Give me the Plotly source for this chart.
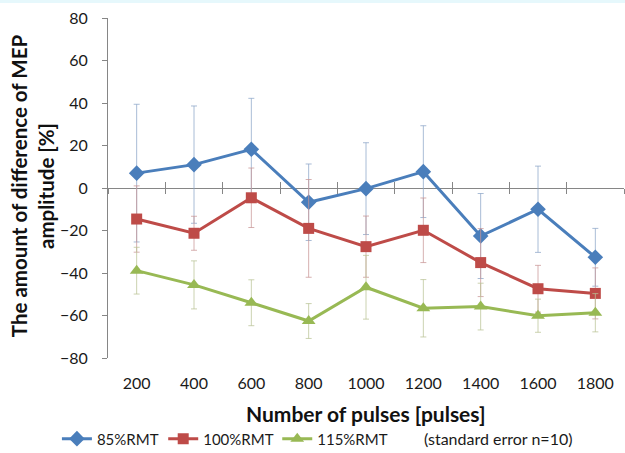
import plotly.graph_objects as go

# ---- data ----
categories = ['200', '400', '600', '800', '1000', '1200', '1400', '1600', '1800']
rmt85 = [7, 11, 18.2, -6.7, -0.3, 7.7, -22.6, -10, -32.6]
rmt85_se = [32.4, 27.6, 24, 18, 21.6, 21.6, 20, 20.3, 13.6]
rmt100 = [-14.6, -21.3, -4.6, -19, -27.6, -19.9, -35.1, -47.4, -49.6]
rmt100_se = [15.6, 8, 14, 23, 14.4, 15.2, 16, 11, 12]
rmt115 = [-38.9, -45.6, -54, -62.6, -46.7, -56.6, -55.8, -60.1, -58.7]
rmt115_se = [11, 11.3, 10.8, 8.2, 15, 13.5, 11, 7.8, 9]
series_names = ['85%RMT', '100%RMT', '115%RMT']
y_ticks = [-80, -60, -40, -20, 0, 20, 40, 60, 80]

FONT = 'Lato'
AXIS_COL = '#868686'

fig = go.Figure()

specs = [
    (rmt85, rmt85_se, '#4A7EBB', 'diamond', 12, 'rgba(140,165,200,0.75)', 'legend'),
    (rmt100, rmt100_se, '#BE4B48', 'square', 11, 'rgba(200,150,150,0.75)', 'legend2'),
    (rmt115, rmt115_se, '#98B954', 'triangle-up', 12, 'rgba(185,195,150,0.75)', 'legend3'),
]
for name, (vals, se, col, sym, size, ecol, leg) in zip(series_names, specs):
    fig.add_trace(go.Scatter(
        x=categories, y=vals, name=name, mode='lines+markers',
        line=dict(color=col, width=3),
        marker=dict(symbol=sym, size=size, color=col),
        error_y=dict(type='data', array=se, symmetric=True, color=ecol,
                     thickness=1, width=3),
        legend=leg,
    ))

# empty helper traces so that the crossing tick axes are drawn
fig.add_trace(go.Scatter(x=[], y=[], xaxis='x2', showlegend=False, hoverinfo='skip'))
fig.add_trace(go.Scatter(x=[], y=[], xaxis='x3', showlegend=False, hoverinfo='skip'))

leg_common = dict(orientation='h', xanchor='left', y=-0.238, yanchor='middle',
                  font=dict(size=15, color='#1a1a1a'), bgcolor='rgba(0,0,0,0)')

n = len(categories)
fig.update_layout(
    width=625, height=453,
    margin=dict(l=108, r=1, t=18, b=95, autoexpand=False),
    paper_bgcolor='white', plot_bgcolor='white',
    font=dict(family=FONT, color='#1a1a1a'),
    showlegend=True,
    xaxis=dict(type='category', categoryorder='array', categoryarray=categories,
               showline=False, showgrid=False, zeroline=False, ticks='',
               tickfont=dict(size=16, color='#1a1a1a'), ticklabelstandoff=14,
               range=[-0.5, n - 0.5]),
    xaxis2=dict(overlaying='x', anchor='free', position=0.5, range=[0, n],
                tick0=0, dtick=1, ticks='outside', ticklen=5, tickcolor=AXIS_COL,
                showticklabels=False, showline=False, showgrid=False, zeroline=False),
    xaxis3=dict(overlaying='x', anchor='free', position=0.5, range=[0, n],
                tick0=0, dtick=1, ticks='inside', ticklen=6, tickcolor=AXIS_COL,
                showticklabels=False, showline=False, showgrid=False, zeroline=False),
    yaxis=dict(range=[-80, 80], tickvals=y_ticks, showgrid=False,
               showline=True, linecolor=AXIS_COL, linewidth=1,
               ticks='outside', ticklen=5, tickcolor=AXIS_COL,
               zeroline=True, zerolinecolor=AXIS_COL, zerolinewidth=1,
               tickfont=dict(size=16, color='#1a1a1a'), ticklabelstandoff=11),
    legend=dict(x=-0.099, **leg_common),
    legend2=dict(x=0.107, **leg_common),
    legend3=dict(x=0.328, **leg_common),
    annotations=[
        dict(text='<b>The amount of difference of MEP<br>amplitude [%]</b>',
             xref='paper', yref='paper', x=-0.145, y=0.506, textangle=-90,
             showarrow=False, font=dict(size=20.5, color='#111111'),
             xanchor='center', yanchor='middle'),
        dict(text='<b>Number of pulses [pulses]</b>',
             xref='paper', yref='paper', x=0.5, y=-0.162,
             showarrow=False, font=dict(size=21, color='#111111'),
             xanchor='center', yanchor='middle'),
        dict(text='(standard error n=10)',
             xref='paper', yref='paper', x=0.756, y=-0.238,
             showarrow=False, font=dict(size=16, color='#1a1a1a'),
             xanchor='center', yanchor='middle'),
    ],
    shapes=[dict(type='rect', xref='paper', yref='paper', x0=-0.3, x1=1.1,
                 y0=1.044, y1=1.06, fillcolor='#e6f8fc', line=dict(width=0),
                 layer='below')],
)

fig.write_html('out.html', config={'displayModeBar': False},
               post_script="document.body.style.margin='0px';")
